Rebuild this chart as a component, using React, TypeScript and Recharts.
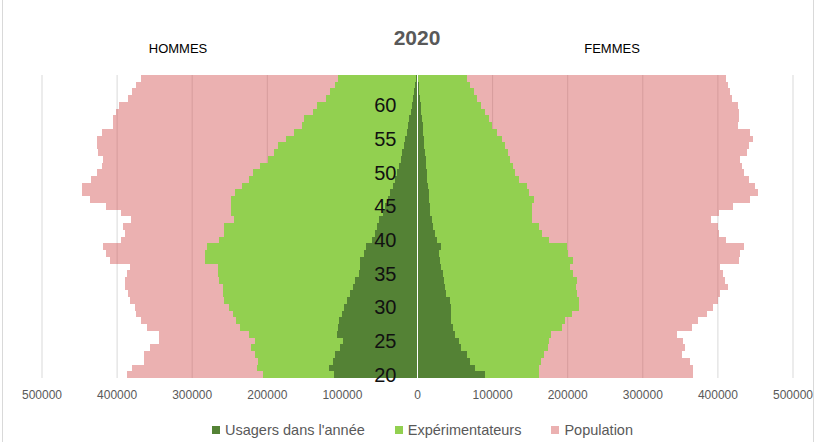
import { BarChart, Bar, XAxis, YAxis, CartesianGrid, ReferenceLine } from "recharts";

// ages, bottom to top
const ages = Array.from({ length: 45 }, (_, i) => 20 + i);

const popHommes = [
  387000, 379600, 364000, 364000, 356400, 344000, 344000, 359600, 368000, 374300,
  376000, 382700, 385000, 389700, 389700, 387000, 382700, 409300, 414300, 418700,
  395000, 389300, 392000, 381700, 394300, 414300, 436400, 446300, 446300, 434700,
  427000, 420400, 418700, 425700, 426300, 427000, 420400, 405300, 405300, 401000,
  397300, 385000, 380400, 375000, 368000,
];
const expHommes = [
  205300, 214200, 212000, 216900, 221300, 216400, 224900, 236000, 241800, 246200,
  250700, 257800, 259600, 259600, 264900, 266200, 265300, 283600, 283600, 280900,
  264900, 257800, 257800, 244900, 248900, 248900, 248900, 243100, 234200, 224000,
  219600, 209800, 198700, 190700, 185300, 175100, 164900, 153800, 150700, 139600,
  134200, 121800, 116000, 109800, 105300,
];
const usaHommes = [
  110700, 117300, 112900, 110200, 103100, 99600, 106700, 105800, 104000, 100400,
  97800, 93300, 90200, 86200, 83100, 77300, 76000, 76000, 71600, 68400,
  60400, 56900, 54200, 50700, 46200, 43100, 39600, 36000, 32900, 30200,
  27600, 24900, 22200, 20400, 17800, 16000, 13800, 12000, 10700, 8900,
  7100, 5800, 4400, 3100, 1800,
];
const popFemmes = [
  366700, 366700, 363100, 352000, 356400, 354100, 345300, 365300, 373300, 385300,
  394100, 400000, 403100, 412800, 409700, 406700, 403100, 427500, 429700, 434100,
  411100, 400800, 400000, 390700, 400800, 420000, 443100, 453300, 448800, 440800,
  434100, 432000, 428800, 438700, 440800, 446100, 442100, 426100, 427500, 427500,
  426100, 418700, 415500, 413300, 411100,
];
const expFemmes = [
  161300, 161700, 164400, 168400, 174100, 175100, 177300, 192000, 196400, 206100,
  215100, 215500, 212800, 210700, 212000, 206700, 203100, 207500, 200800, 199500,
  175500, 165300, 162100, 152000, 152000, 152000, 155100, 148400, 145300, 135500,
  129700, 126700, 123100, 120800, 116400, 112000, 106100, 98700, 95500, 89700,
  84000, 79500, 75100, 69700, 65300,
];
const usaFemmes = [
  89300, 76000, 69700, 65300, 57700, 55500, 50100, 46700, 44000, 44800,
  44000, 43100, 37700, 36000, 34700, 33300, 31500, 30100, 28800, 30700,
  25300, 22700, 20800, 19100, 17300, 16400, 15500, 14700, 13700, 12800,
  12000, 11500, 11100, 10100, 9300, 8400, 7500, 6700, 5700, 4800,
  4000, 3500, 2200, 1500, 1300,
];

const xTicks = [-500000, -400000, -300000, -200000, -100000, 0, 100000, 200000, 300000, 400000, 500000];

const legendItems = [
  { name: "Usagers dans l'année", color: "#548235" },
  { name: "Expérimentateurs", color: "#92d050" },
  { name: "Population", color: "#ebb1b1" },
];

const data = ages.map((age, i) => ({
  age,
  popH: -popHommes[i],
  popF: popFemmes[i],
  expH: -expHommes[i],
  expF: expFemmes[i],
  usaH: -usaHommes[i],
  usaF: usaFemmes[i],
}));

const W = 817;
const H = 442;
const margin = { top: 75, right: 24, bottom: 34, left: 41 };
const xAxisHeight = 30;
const yAxisWidth = 1;
const plotLeft = margin.left + yAxisWidth;
const zeroX = plotLeft + (W - plotLeft - margin.right) / 2;
// full band height, slightly under so recharts doesn't shrink the bars
const rowHeight = (H - margin.top - margin.bottom - xAxisHeight) / ages.length - 0.002;
const font = "'Liberation Sans', Arial, sans-serif";

const AgeTick = (props: any) => {
  const { y, payload } = props;
  return (
    <text x={zeroX - 21} y={y} dy="0.35em" textAnchor="end" fontSize={20} fill="#111" fontFamily={font}>
      {payload.value}
    </text>
  );
};

export default function App() {
  return (
    <div style={{ position: "absolute", left: 0, top: 0, width: W, height: H, background: "#fff", fontFamily: font }}>
      <div style={{ position: "absolute", left: 2, top: 0, width: 810, height: H, borderLeft: "1px solid #d9d9d9", borderRight: "1px solid #d9d9d9" }} />
      <div style={{ position: "absolute", left: 417, top: 38, transform: "translate(-50%,-50%)", fontSize: 21, fontWeight: "bold", color: "#595959" }}>2020</div>
      <div style={{ position: "absolute", left: 178, top: 48, transform: "translate(-50%,-50%)", fontSize: 13, color: "#000" }}>HOMMES</div>
      <div style={{ position: "absolute", left: 612, top: 48, transform: "translate(-50%,-50%)", fontSize: 13, color: "#000" }}>FEMMES</div>
      <BarChart
        width={W}
        height={H}
        data={data}
        layout="vertical"
        margin={margin}
        barCategoryGap={0}
        barGap="-100%"
        barSize={rowHeight}
        style={{ position: "absolute", left: 0, top: 0 }}
      >
        <CartesianGrid horizontal={false} stroke="#d9d9d9" />
        <XAxis
          type="number"
          domain={[-500000, 500000]}
          ticks={xTicks}
          tickFormatter={(v: number) => String(Math.abs(v))}
          axisLine={false}
          tickLine={false}
          tickMargin={6}
          height={xAxisHeight}
          tick={{ fontSize: 12, fill: "#595959", fontFamily: font }}
        />
        <Bar dataKey="popH" fill="#d35252" fillOpacity={0.45} shapeRendering="crispEdges" isAnimationActive={false} />
        <Bar dataKey="popF" fill="#d35252" fillOpacity={0.45} shapeRendering="crispEdges" isAnimationActive={false} />
        <Bar dataKey="expH" fill="#92d050" shapeRendering="crispEdges" isAnimationActive={false} />
        <Bar dataKey="expF" fill="#92d050" shapeRendering="crispEdges" isAnimationActive={false} />
        <Bar dataKey="usaH" fill="#548235" shapeRendering="crispEdges" isAnimationActive={false} />
        <Bar dataKey="usaF" fill="#548235" shapeRendering="crispEdges" isAnimationActive={false} />
        <ReferenceLine x={0} stroke="#ffffff" strokeWidth={1} />
        <YAxis
          type="category"
          dataKey="age"
          reversed
          interval={4}
          width={yAxisWidth}
          axisLine={false}
          tickLine={false}
          tick={<AgeTick />}
        />
      </BarChart>
      <div
        style={{
          position: "absolute",
          left: 0,
          top: 430,
          width: W,
          transform: "translateY(-50%)",
          display: "flex",
          justifyContent: "center",
          gap: 30,
          paddingLeft: 28,
          boxSizing: "border-box",
          fontSize: 14.5,
          color: "#595959",
        }}
      >
        {legendItems.map((it) => (
          <div key={it.name} style={{ display: "flex", alignItems: "center" }}>
            <span style={{ display: "inline-block", width: 8, height: 8, background: it.color, marginRight: 5 }} />
            <span>{it.name}</span>
          </div>
        ))}
      </div>
    </div>
  );
}
